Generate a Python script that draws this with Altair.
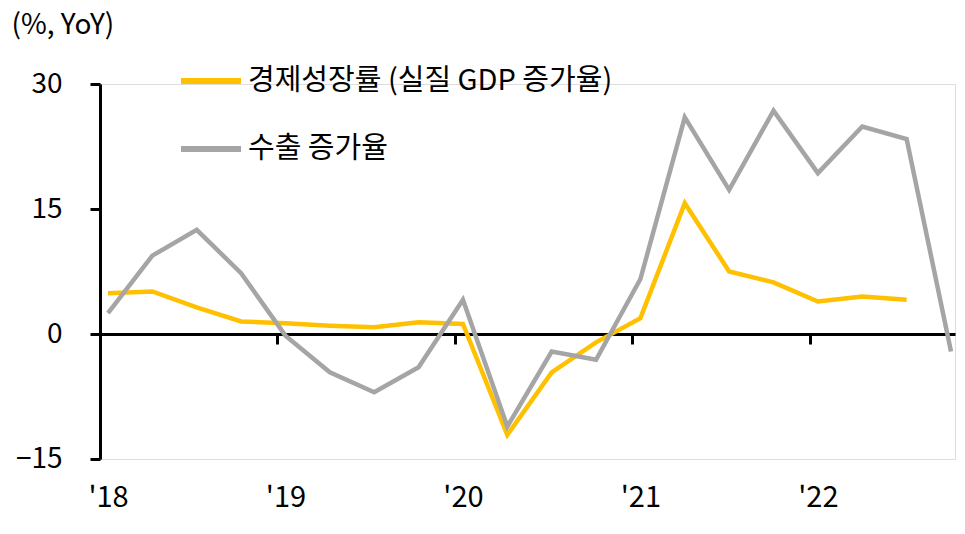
import json
import altair as alt
import pandas as pd

# ---- data ----
quarters = ["18Q1", "18Q2", "18Q3", "18Q4", "19Q1", "19Q2", "19Q3", "19Q4",
            "20Q1", "20Q2", "20Q3", "20Q4", "21Q1", "21Q2", "21Q3", "21Q4",
            "22Q1", "22Q2", "22Q3", "22Q4"]
gdp_growth = [4.9, 5.1, 3.2, 1.5, 1.3, 1.0, 0.8, 1.4, 1.2, -12.1, -4.6, -1.0,
              1.9, 15.7, 7.5, 6.2, 3.9, 4.5, 4.1]
export_growth = [2.5, 9.4, 12.5, 7.3, -0.2, -4.6, -7.0, -4.0, 4.1, -11.1, -2.1,
                 -3.1, 6.6, 26.0, 17.3, 26.8, 19.3, 24.9, 23.4, -2.1]
year_labels = ["'18", "'19", "'20", "'21", "'22"]
y_ticks = [-15, 0, 15, 30]
series_names = ["경제성장률 (실질 GDP 증가율)", "수출 증가율"]
series_colors = ["#FFC000", "#A5A5A5"]

rows = []
for i, v in enumerate(gdp_growth):
    rows.append({"idx": i, "q": quarters[i], "series": series_names[0], "value": v})
for i, v in enumerate(export_growth):
    rows.append({"idx": i, "q": quarters[i], "series": series_names[1], "value": v})
df = pd.DataFrame(rows)

FONT = "Noto Sans CJK KR"
shift = 0.18
tick_vals = [4 * k - shift for k in range(len(year_labels))]
label_expr = json.dumps(year_labels) + f"[round((datum.value+{shift})/4)]"

x = alt.X(
    "idx:Q",
    scale=alt.Scale(domain=[-shift, 19.09], nice=False, zero=False),
    axis=alt.Axis(
        values=tick_vals, labelExpr=label_expr, title=None, grid=False,
        offset=-125, domainColor="black", domainWidth=3,
        tickColor="black", tickWidth=3, tickSize=10,
        labelPadding=153, labelBaseline="middle", labelOffset=8,
        labelFlush=False, labelOverlap=False, labelBound=False,
        labelFontSize=29, labelColor="black", labelFont=FONT,
    ),
)
y = alt.Y(
    "value:Q",
    scale=alt.Scale(domain=[-15, 30], nice=False, zero=False),
    axis=alt.Axis(
        values=y_ticks, title="(%, YoY)", grid=False,
        domainColor="black", domainWidth=3, tickColor="black", tickWidth=3,
        tickSize=10, labelPadding=28, labelFontSize=28, labelColor="black",
        labelFont=FONT,
        titleAngle=0, titleX=-89, titleY=-59, titleAlign="left",
        titleBaseline="middle", titleFontSize=28, titleFontWeight="normal",
        titleColor="black", titleFont=FONT,
    ),
)
color = alt.Color(
    "series:N",
    scale=alt.Scale(domain=series_names, range=series_colors),
    legend=alt.Legend(
        orient="none", legendX=78, legendY=-36, title=None,
        symbolType="stroke", symbolSize=3600, symbolStrokeWidth=6,
        labelFontSize=29, labelFont=FONT, labelColor="black", labelOffset=4,
        labelLimit=0, rowPadding=20, symbolOpacity=1,
    ),
)

base = alt.Chart(df)
gdp_line = base.transform_filter(alt.datum.series == series_names[0]).mark_line(
    strokeWidth=4.5).encode(x=x, y=y, color=color)
exp_line = base.transform_filter(alt.datum.series == series_names[1]).mark_line(
    strokeWidth=4.5).encode(x=x, y=y, color=color)

chart = alt.layer(gdp_line, exp_line).properties(
    width=855, height=375,
    autosize=alt.AutoSizeParams(type="none"),
    padding={"left": 92, "top": 76, "right": 2, "bottom": 70},
).configure_view(stroke=None).configure(font=FONT)

chart.save("out.html", embed_options={"renderer": "svg", "actions": False})
